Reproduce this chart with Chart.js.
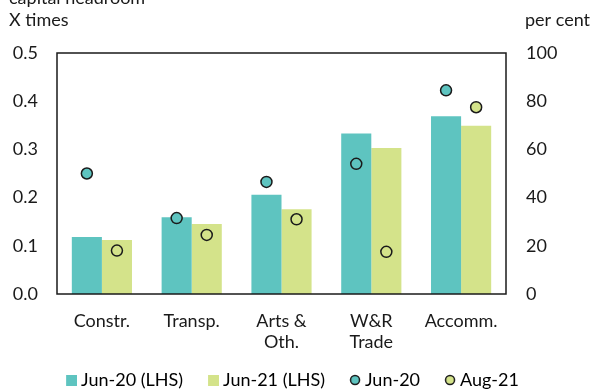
<!DOCTYPE html>
<html>
<head>
<meta charset="utf-8">
<script src="https://cdn.jsdelivr.net/npm/chart.js@4"></script>
<style>
  html, body { margin: 0; padding: 0; background: #fff; }
  #wrap { width: 592px; height: 389px; }
</style>
</head>
<body>
<div id="wrap"><canvas id="headroom-chart"></canvas></div>
<script>
// sectors and values
const sectors = ['Constr.', 'Transp.', ['Arts &', 'Oth.'], ['W&R', 'Trade'], 'Accomm.'];
const timesJun20 = [0.118, 0.159, 0.206, 0.333, 0.369];
const timesJun21 = [0.112, 0.145, 0.176, 0.303, 0.349];
const pctJun20 = [50, 31.5, 46.5, 54, 84.5];
const pctAug21 = [18, 24.5, 31, 17.5, 77.5];
const leftTicks = [0, 0.1, 0.2, 0.3, 0.4, 0.5];
const rightTicks = [0, 20, 40, 60, 80, 100];

const teal = '#5ec4c0';
const lime = '#d4e38a';
const ink = '#1a1a1a';

Chart.defaults.font.family = 'Lato';
Chart.defaults.font.size = 18;
Chart.defaults.color = ink;

// legend markers: marker sits at the right end of a wider transparent canvas,
// so the leftover space acts as the gap before each entry
const MARK_W = 19;
function legendSquare(color) {
    const c = document.createElement('canvas');
    c.width = MARK_W; c.height = 11;
    const g = c.getContext('2d');
    g.fillStyle = color;
    g.fillRect(MARK_W - 11, 0, 11, 11);
    return c;
}
function legendDot(color) {
    const c = document.createElement('canvas');
    c.width = MARK_W; c.height = 12;
    const g = c.getContext('2d');
    g.beginPath();
    g.arc(MARK_W - 6, 6, 4.5, 0, Math.PI * 2);
    g.fillStyle = color;
    g.fill();
    g.lineWidth = 1.5;
    g.strokeStyle = ink;
    g.stroke();
    return c;
}

// put each dot over the centre of its matching bar
const alignDots = {
    id: 'alignDots',
    afterDatasetsUpdate(chart) {
        [[0, 2], [1, 3]].forEach(([barIdx, dotIdx]) => {
            const bars = chart.getDatasetMeta(barIdx).data;
            chart.getDatasetMeta(dotIdx).data.forEach((pt, i) => { pt.x = bars[i].x; });
        });
    }
};

// box around the plot area
const frame = {
    id: 'frame',
    afterDatasetsDraw(chart) {
        const {ctx, chartArea: a} = chart;
        ctx.save();
        ctx.strokeStyle = ink;
        ctx.lineWidth = 1.5;
        ctx.strokeRect(a.left, a.top, a.right - a.left, a.bottom - a.top);
        ctx.restore();
    }
};

// heading and unit labels
const headings = {
    id: 'headings',
    afterDraw(chart) {
        const {ctx} = chart;
        ctx.save();
        ctx.font = '18px Lato';
        ctx.fillStyle = ink;
        ctx.textBaseline = 'alphabetic';
        ctx.textAlign = 'left';
        ctx.fillText('capital headroom', 9, 4);
        ctx.fillText('X times', 9, 26);
        ctx.fillText('per cent', chart.scales.y2.left + 19, 26);
        ctx.restore();
    }
};

new Chart(document.getElementById('headroom-chart'), {
    type: 'bar',
    data: {
        labels: sectors,
        datasets: [{
            label: 'Jun-20 (LHS)',
            data: timesJun20,
            backgroundColor: teal,
            yAxisID: 'y',
            order: 1,
            categoryPercentage: 0.67,
            barPercentage: 1.0
        }, {
            label: 'Jun-21 (LHS)',
            data: timesJun21,
            backgroundColor: lime,
            yAxisID: 'y',
            order: 1,
            categoryPercentage: 0.67,
            barPercentage: 1.0
        }, {
            label: 'Jun-20',
            type: 'line',
            data: pctJun20,
            showLine: false,
            pointRadius: 5.5,
            pointBackgroundColor: teal,
            pointBorderColor: ink,
            pointBorderWidth: 1.5,
            yAxisID: 'y2',
            order: 0
        }, {
            label: 'Aug-21',
            type: 'line',
            data: pctAug21,
            showLine: false,
            pointRadius: 5.5,
            pointBackgroundColor: lime,
            pointBorderColor: ink,
            pointBorderWidth: 1.5,
            yAxisID: 'y2',
            order: 0
        }]
    },
    options: {
        responsive: true,
        maintainAspectRatio: false,
        animation: false,
        layout: { padding: { top: 53, left: 0, right: 10, bottom: -10 } },
        plugins: {
            tooltip: { enabled: false },
            legend: {
                position: 'bottom',
                labels: {
                    usePointStyle: true,
                    boxWidth: 9,
                    padding: 22,
                    color: ink,
                    generateLabels(chart) {
                        const markers = [legendSquare(teal), legendSquare(lime), legendDot(teal), legendDot(lime)];
                        return chart.data.datasets.map((ds, i) => ({
                            text: ds.label,
                            pointStyle: markers[i],
                            fillStyle: 'transparent',
                            strokeStyle: 'transparent',
                            lineWidth: 0,
                            hidden: false,
                            datasetIndex: i
                        }));
                    }
                }
            }
        },
        scales: {
            x: {
                grid: { display: false, drawTicks: false },
                border: { display: false },
                ticks: { padding: 16, maxRotation: 0, font: { lineHeight: 1.2 } },
                afterFit(s) { s.height = 55; }
            },
            y: {
                position: 'left',
                min: 0,
                max: 0.5,
                grid: { display: false, drawTicks: false },
                border: { display: false },
                afterBuildTicks(s) { s.ticks = leftTicks.map(v => ({ value: v })); },
                ticks: { padding: 19, callback: v => v.toFixed(1) },
                afterFit(s) { s.width = 57; }
            },
            y2: {
                position: 'right',
                min: 0,
                max: 100,
                grid: { display: false, drawTicks: false },
                border: { display: false },
                afterBuildTicks(s) { s.ticks = rightTicks.map(v => ({ value: v })); },
                ticks: { padding: 20 },
                afterFit(s) { s.width = 76; }
            }
        }
    },
    plugins: [alignDots, frame, headings]
});
</script>
</body>
</html>
